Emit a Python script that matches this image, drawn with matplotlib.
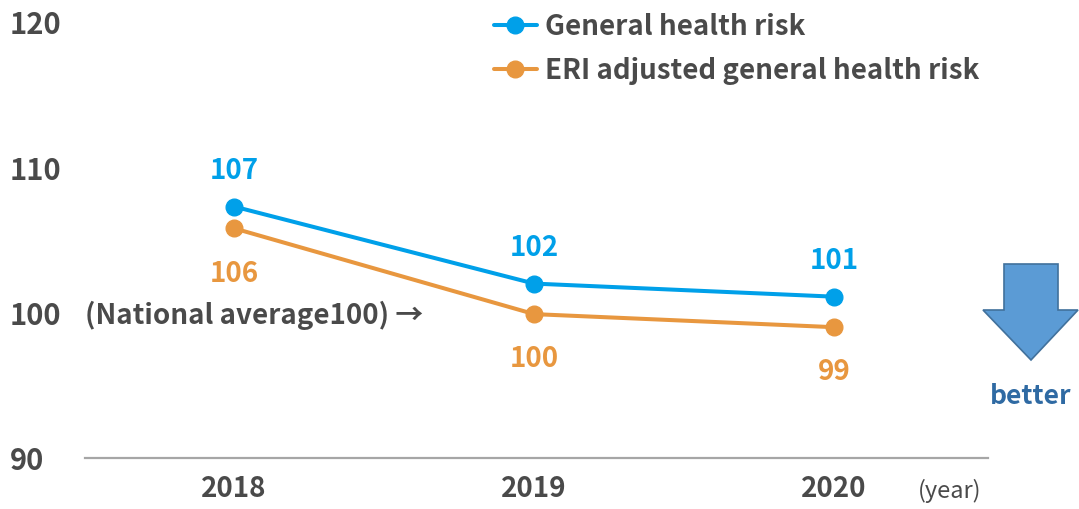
import matplotlib.pyplot as plt
from matplotlib.patches import Polygon

plt.rcParams['font.family'] = ['Noto Sans CJK JP', 'DejaVu Sans']

years = [2018, 2019, 2020]
general_risk = [107.3, 102.0, 101.1]
eri_adjusted = [105.8, 99.9, 99.0]
series_names = ['General health risk', 'ERI adjusted general health risk']
y_ticks = [90, 100, 110, 120]

blue = '#00a0e9'
orange = '#e8973f'
grey = '#4a4a4a'

fig = plt.figure(figsize=(10.79, 5.09), dpi=100)
ax = fig.add_axes([0.0788, 0.1002, 0.8369, 0.8566])

l1, = ax.plot(years, general_risk, color=blue, lw=2.9, marker='o', ms=12,
              label=series_names[0], solid_capstyle='round')
l2, = ax.plot(years, eri_adjusted, color=orange, lw=2.9, marker='o', ms=12,
              label=series_names[1], solid_capstyle='round')

# value labels: blue above, orange below
for x, v in zip(years, general_risk):
    ax.annotate(f'{v:.0f}', (x, v), xytext=(0, 25.5), textcoords='offset points',
                ha='center', va='center', color=blue, fontsize=20, fontweight='bold')
for x, v in zip(years, eri_adjusted):
    ax.annotate(f'{v:.0f}', (x, v), xytext=(0, -32.5), textcoords='offset points',
                ha='center', va='center', color=orange, fontsize=20, fontweight='bold')

ax.set_xlim(2017.503, 2020.513)
ax.set_ylim(90, 120)
ax.set_yticks([])
ax.set_xticks(years)
ax.set_xticklabels([str(y) for y in years], fontsize=20, fontweight='bold', color=grey)
ax.tick_params(axis='x', length=0, pad=12)
for side in ['top', 'right', 'left']:
    ax.spines[side].set_visible(False)
ax.spines['bottom'].set_color('#a6a6a6')
ax.spines['bottom'].set_linewidth(1.6)

# y tick labels sit at the far left edge of the figure
trans = ax.get_yaxis_transform()
for t in y_ticks:
    ax.text(-0.083, t - 0.22, str(t), transform=trans, ha='left', va='center',
            fontsize=21, fontweight='bold', color=grey)

ax.text(0.0, 99.8, '(National average100) →', transform=trans, ha='left', va='center',
        fontsize=20, fontweight='bold', color=grey)

fig.text(0.851, 0.035, '(year)', ha='left', va='center', fontsize=17, color=grey)

leg = fig.legend(handles=[l1, l2], loc='upper left', bbox_to_anchor=(0.4475, 0.997),
                 frameon=False, fontsize=20, handlelength=1.55, handletextpad=0.3,
                 labelspacing=0.58, borderaxespad=0)
for txt in leg.get_texts():
    txt.set_color(grey)
    txt.set_fontweight('bold')

# "better" arrow in pixel coordinates
W, H = 1079, 509
pts = [(1004, 264), (1058, 264), (1058, 310), (1078, 310), (1031, 360),
       (983, 310), (1004, 310)]
arrow = Polygon([(x / W, 1 - y / H) for x, y in pts], closed=True,
                transform=fig.transFigure, facecolor='#5b9bd5', edgecolor='#41719c',
                lw=1.2)
fig.patches.append(arrow)
fig.text(1031 / W, 1 - 396 / H, 'better', ha='center', va='center', fontsize=19,
         fontweight='bold', color='#2f6aa3')

fig.savefig('out.png', dpi=100)
